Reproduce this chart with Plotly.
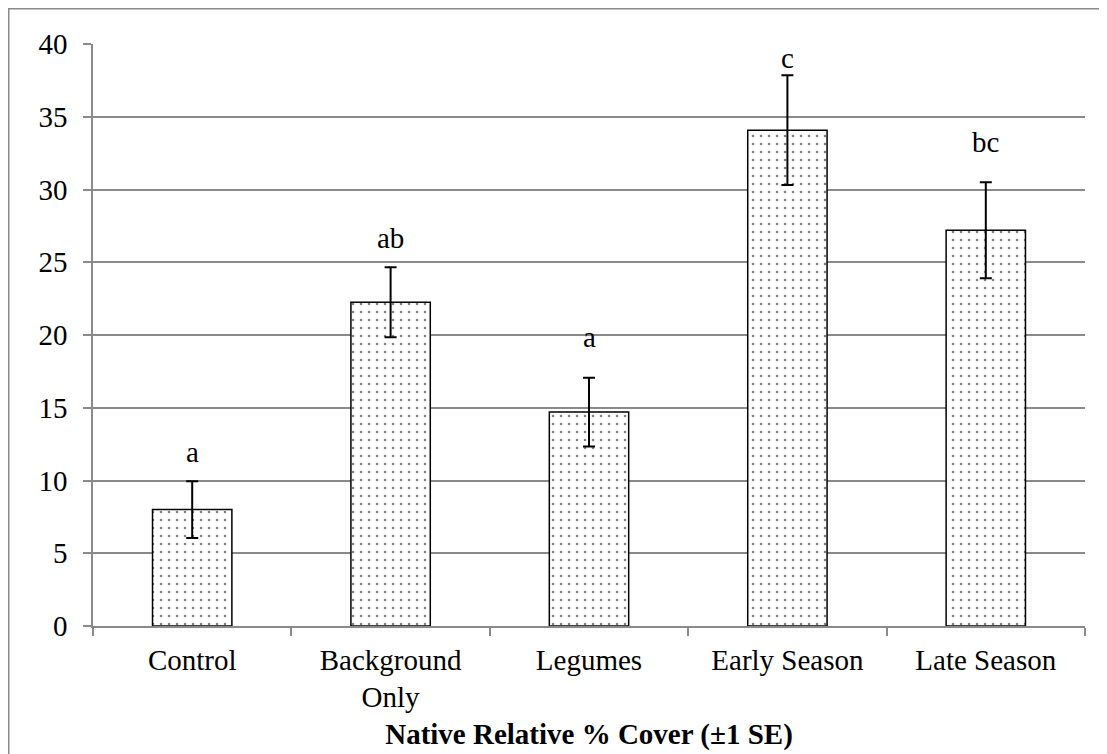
import plotly.graph_objects as go

categories = ["Control", "Background<br>Only", "Legumes", "Early Season", "Late Season"]
means = [8.0, 22.25, 14.7, 34.08, 27.2]
se = [1.95, 2.4, 2.37, 3.77, 3.3]
letters = ["a", "ab", "a", "c", "bc"]
letter_y = [11.96, 26.67, 19.86, 39.04, 33.26]
y_ticks = [0, 5, 10, 15, 20, 25, 30, 35, 40]

FONT = "Liberation Serif, Times New Roman, serif"
GRAY = "#8a8a8a"

# page body has an 8px margin; figure sized to fill the rest of the window
W, H = 1099, 746
L, R, T, B = 85, 22, 36, 128
pw, ph = W - L - R, H - T - B

fig = go.Figure()
fig.add_trace(go.Bar(
    x=categories, y=means, width=0.4,
    marker=dict(color="white",
                line=dict(color="black", width=1.5),
                pattern=dict(shape=".", fgcolor="black", bgcolor="white",
                             size=8, solidity=0.08, fillmode="overlay")),
    error_y=dict(type="data", array=se, visible=True, color="black",
                 thickness=2, width=6),
    showlegend=False,
))

for c, t, yy in zip(categories, letters, letter_y):
    fig.add_annotation(x=c, y=yy, text=t, showarrow=False, yanchor="middle",
                       font=dict(family=FONT, size=29, color="black"))

def px_to_paper_x(px):
    return (px - L) / pw

def px_to_paper_y(py):
    return (H - B - py) / ph

fig.add_shape(type="rect", xref="paper", yref="paper",
              x0=px_to_paper_x(0.75), x1=px_to_paper_x(1098),
              y0=px_to_paper_y(770), y1=px_to_paper_y(0.75),
              line=dict(color=GRAY, width=1.5), fillcolor="rgba(0,0,0,0)",
              layer="below")

fig.update_layout(
    width=W, height=H,
    margin=dict(l=L, r=R, t=T, b=B, autoexpand=False),
    paper_bgcolor="white", plot_bgcolor="white",
    font=dict(family=FONT, size=29, color="black"),
    xaxis=dict(
        showline=True, linecolor=GRAY, linewidth=1.5,
        ticks="outside", tickson="boundaries", ticklen=8, tickcolor=GRAY,
        tickwidth=1.5, showgrid=False,
        tickfont=dict(family=FONT, size=29, color="black"),
        ticklabelstandoff=7,
        title=dict(text="<b>Native Relative % Cover (±1 SE)</b>",
                   font=dict(family=FONT, size=29, color="black"),
                   standoff=11),
        automargin=False,
        range=[-0.5, 4.5],
    ),
    yaxis=dict(
        range=[0, 40], tickvals=y_ticks,
        showline=True, linecolor=GRAY, linewidth=1.5,
        ticks="outside", ticklen=8, tickcolor=GRAY, tickwidth=1.5,
        showgrid=True, gridcolor=GRAY, gridwidth=1.5, zeroline=False,
        tickfont=dict(family=FONT, size=29, color="black"),
        ticklabelstandoff=10,
        automargin=False,
    ),
)

fig.write_html("out.html")
